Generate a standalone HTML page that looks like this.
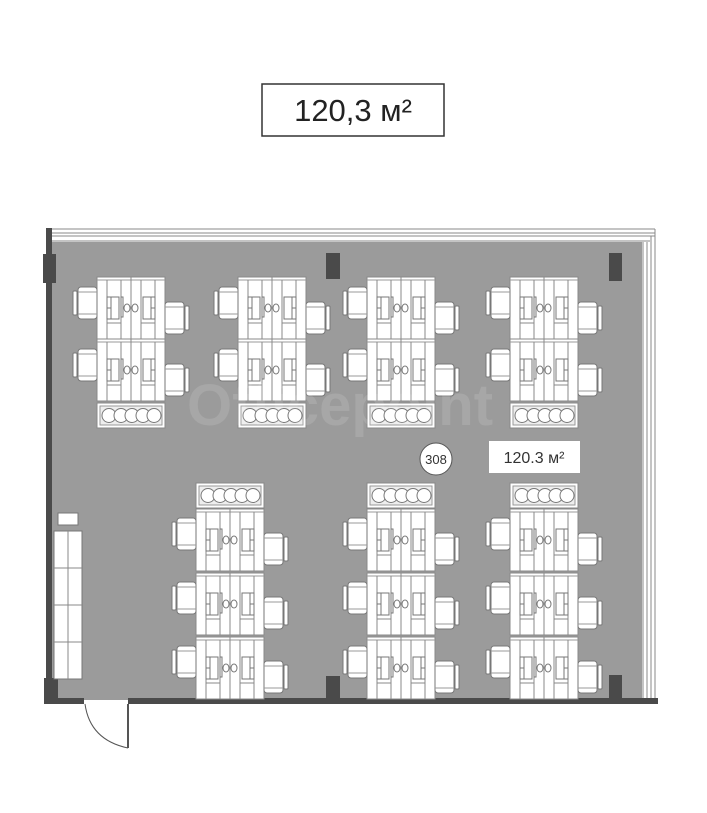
<!DOCTYPE html>
<html><head><meta charset="utf-8"><style>
html,body{margin:0;padding:0;background:#fff;}
svg{display:block;}
</style></head><body>
<svg width="707" height="813" viewBox="0 0 707 813" xmlns="http://www.w3.org/2000/svg">
<defs>
<g id="blk">
 <rect x="0" y="0" width="68" height="62" fill="#fff" stroke="#8a8a8a" stroke-width="1"/>
 <line x1="0" y1="3" x2="68" y2="3" stroke="#999"/>
 <g stroke="#888" stroke-width="1">
  <line x1="10" y1="3" x2="10" y2="62"/><line x1="24" y1="3" x2="24" y2="62"/>
  <line x1="34" y1="0" x2="34" y2="62"/><line x1="44" y1="3" x2="44" y2="62"/>
  <line x1="58" y1="3" x2="58" y2="62"/>
  <line x1="10" y1="46" x2="24" y2="46"/><line x1="44" y1="46" x2="58" y2="46"/>
 </g>
 <g fill="none" stroke="#777" stroke-width="1">
  <rect x="10" y="20" width="12" height="22"/><line x1="14" y1="20" x2="14" y2="42"/><line x1="10" y1="31" x2="14" y2="31"/>
  <rect x="46" y="20" width="12" height="22"/><line x1="54" y1="20" x2="54" y2="42"/><line x1="54" y1="31" x2="58" y2="31"/>
  <rect x="24" y="20" width="2" height="20"/>
  <ellipse cx="30" cy="31" rx="3" ry="4"/><ellipse cx="38" cy="31" rx="3" ry="4"/>
 </g>
</g>
<g id="chL">
 <rect x="-24" y="8" width="4" height="24" rx="1" fill="#fff" stroke="#777"/>
 <rect x="-19" y="4" width="19" height="32" rx="3" fill="#fff" stroke="#777"/>
 <line x1="-19" y1="9" x2="0" y2="9" stroke="#999"/><line x1="-19" y1="31" x2="0" y2="31" stroke="#999"/>
</g>
<g id="chR">
 <rect x="20" y="8" width="4" height="24" rx="1" fill="#fff" stroke="#777"/>
 <rect x="0" y="4" width="19" height="32" rx="3" fill="#fff" stroke="#777"/>
 <line x1="0" y1="9" x2="19" y2="9" stroke="#999"/><line x1="0" y1="31" x2="19" y2="31" stroke="#999"/>
</g>
<g id="pl">
 <rect x="0" y="0" width="68" height="25" fill="#fff" stroke="#888"/>
 <rect x="3" y="3" width="62" height="19" fill="#eee" stroke="#999"/>
 <g fill="#fff" stroke="#777" stroke-width="1">
  <circle cx="12" cy="12.5" r="7"/><circle cx="24" cy="12.5" r="7"/><circle cx="35" cy="12.5" r="7"/><circle cx="46" cy="12.5" r="7"/><circle cx="57" cy="12.5" r="7"/>
 </g>
</g>
<g id="topc">
 <use href="#blk" x="0" y="277"/><use href="#blk" x="0" y="339"/>
 <use href="#pl" x="0" y="403"/>
 <use href="#chL" x="0" y="283"/><use href="#chR" x="68" y="298"/>
 <use href="#chL" x="0" y="345"/><use href="#chR" x="68" y="360"/>
</g>
<g id="botc">
 <use href="#pl" x="0" y="483"/>
 <use href="#blk" x="0" y="509"/><use href="#blk" x="0" y="573"/><use href="#blk" x="0" y="637"/>
 <use href="#chL" x="0" y="514"/><use href="#chR" x="68" y="529"/>
 <use href="#chL" x="0" y="578"/><use href="#chR" x="68" y="593"/>
 <use href="#chL" x="0" y="642"/><use href="#chR" x="68" y="657"/>
</g>
</defs>

<rect x="262" y="84" width="182" height="52" fill="#fff" stroke="#333" stroke-width="1.5"/>
<text x="353" y="121" text-anchor="middle" font-family="Liberation Sans, sans-serif" font-size="31" fill="#222">120,3 м²</text>

<!-- floor -->
<rect x="52" y="242" width="590" height="458" fill="#9b9b9b"/>
<!-- top wall strip -->
<rect x="48" y="228" width="607" height="14" fill="#fff"/>
<g stroke="#888" stroke-width="1">
 <line x1="48" y1="229" x2="655" y2="229"/><line x1="52" y1="233" x2="655" y2="233"/>
 <line x1="52" y1="236" x2="655" y2="236"/><line x1="52" y1="241" x2="650" y2="241"/>
 <line x1="643" y1="242" x2="643" y2="700"/><line x1="647" y1="242" x2="647" y2="700"/>
 <line x1="651" y1="236" x2="651" y2="700"/><line x1="655" y1="229" x2="655" y2="700"/>
</g>
<!-- walls -->
<rect x="46" y="228" width="6" height="476" fill="#4a4a4a"/>
<rect x="43" y="254" width="13" height="29" fill="#4a4a4a"/>
<rect x="44" y="678" width="14" height="26" fill="#4a4a4a"/>
<rect x="46" y="698" width="38" height="6" fill="#4a4a4a"/>
<rect x="128" y="698" width="530" height="6" fill="#4a4a4a"/>
<rect x="326" y="253" width="14" height="26" fill="#4a4a4a"/>
<rect x="609" y="253" width="13" height="28" fill="#4a4a4a"/>
<rect x="326" y="676" width="14" height="24" fill="#4a4a4a"/>
<rect x="609" y="675" width="13" height="25" fill="#4a4a4a"/>
<!-- door -->
<path d="M85 704 Q90 740 128 748" fill="none" stroke="#555"/>
<line x1="128" y1="704" x2="128" y2="748" stroke="#555" stroke-width="2"/>
<!-- cabinet -->
<rect x="58" y="513" width="20" height="12" fill="#fff" stroke="#777"/>
<rect x="54" y="531" width="28" height="148" fill="#fff" stroke="#777"/>
<g stroke="#888"><line x1="68" y1="531" x2="68" y2="679"/><line x1="54" y1="568" x2="82" y2="568"/><line x1="54" y1="605" x2="82" y2="605"/><line x1="54" y1="642" x2="82" y2="642"/></g>

<use href="#topc" x="97"/><use href="#topc" x="238"/><use href="#topc" x="367"/><use href="#topc" x="510"/>
<use href="#botc" x="196"/><use href="#botc" x="367"/><use href="#botc" x="510"/>

<text x="340" y="425" text-anchor="middle" font-family="Liberation Sans, sans-serif" font-size="58" font-weight="bold" fill="#fff" fill-opacity="0.12">Officepoint</text>

<circle cx="436" cy="459" r="16" fill="#fff" stroke="#555"/>
<text x="436" y="464" text-anchor="middle" font-family="Liberation Sans, sans-serif" font-size="13" fill="#333">308</text>
<rect x="489" y="441" width="91" height="32" fill="#fff"/>
<text x="534" y="463" text-anchor="middle" font-family="Liberation Sans, sans-serif" font-size="16" fill="#333">120.3 м²</text>
</svg>
</body></html>
